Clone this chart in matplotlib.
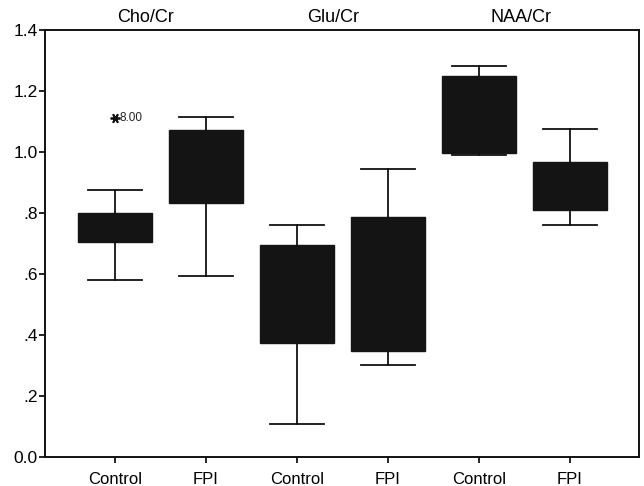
import matplotlib
matplotlib.use("Agg")
import matplotlib.pyplot as plt

plt.rcParams['font.family'] = ['Liberation Sans', 'DejaVu Sans']

groups = ["Control", "FPI", "Control", "FPI", "Control", "FPI"]
ratios = ["Cho/Cr", "Glu/Cr", "NAA/Cr"]
ratio_x = [1.33, 3.40, 5.46]

# five-number summaries per box
whislo = [0.579, 0.595, 0.108, 0.302, 0.989, 0.762]
q1     = [0.704, 0.834, 0.374, 0.349, 0.998, 0.811]
med    = [0.750, 0.950, 0.530, 0.560, 1.120, 0.890]
q3     = [0.800, 1.072, 0.694, 0.786, 1.250, 0.967]
whishi = [0.875, 1.116, 0.761, 0.943, 1.282, 1.075]
fliers = [[1.113], [], [], [], [], []]
flier_labels = [["8.00"], [], [], [], [], []]

stats = []
for i in range(len(groups)):
    stats.append(dict(whislo=whislo[i], q1=q1[i], med=med[i], q3=q3[i],
                      whishi=whishi[i], fliers=fliers[i], label=groups[i]))

fig = plt.figure(figsize=(6.44, 4.86), dpi=100)
ax = fig.add_axes([0.0699, 0.0597, 0.9223, 0.8786])

pos = list(range(1, len(groups) + 1))
ax.bxp(stats, positions=pos, widths=0.82, patch_artist=True,
       boxprops=dict(facecolor='#141414', edgecolor='#141414', linewidth=1),
       medianprops=dict(linewidth=0),
       whiskerprops=dict(color='#111111', linewidth=1.3),
       capprops=dict(color='#111111', linewidth=1.3),
       capwidths=0.59,
       flierprops=dict(marker=(6, 2, 90), markersize=7, markeredgecolor='#111111',
                       markeredgewidth=1.3, linestyle='none'))

for i, labs in enumerate(flier_labels):
    for v, t in zip(fliers[i], labs):
        ax.text(pos[i] + 0.05, v, t, fontsize=8.5, va='center', ha='left', color='#222222')

for x, r in zip(ratio_x, ratios):
    ax.text(x, 1.426, r, fontsize=13, ha='center', va='baseline')

ax.set_xlim(0.23, 6.76)
ax.set_ylim(0, 1.4)
ax.set_yticks([0.0, 0.2, 0.4, 0.6, 0.8, 1.0, 1.2, 1.4])
ax.set_yticklabels(["0.0", ".2", ".4", ".6", ".8", "1.0", "1.2", "1.4"], fontsize=12.5)
ax.set_xticks(pos)
ax.set_xticklabels(groups, fontsize=12)
ax.tick_params(axis='x', direction='out', length=4, width=1.2, pad=7)
ax.tick_params(axis='y', direction='out', length=4, width=1.2, pad=1.5)
for s in ax.spines.values():
    s.set_linewidth(1.4)
    s.set_color('#111111')

fig.savefig("out.png", dpi=100)
